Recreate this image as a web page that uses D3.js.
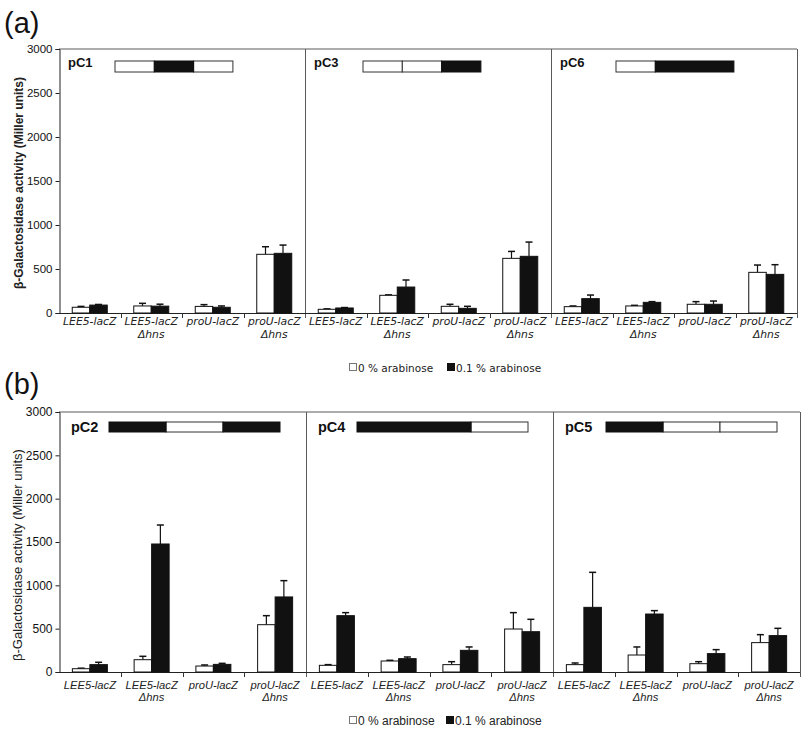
<!DOCTYPE html>
<html><head><meta charset="utf-8">
<script src="https://cdn.jsdelivr.net/npm/d3@7"></script>
<style>body{margin:0;background:#fff}svg{display:block}</style>
</head><body>
<script>
// ---------- data ----------
const catLine1 = ["LEE5-lacZ", "LEE5-lacZ", "proU-lacZ", "proU-lacZ"];
const catLine2 = ["", "Δhns", "", "Δhns"];
const seriesNames = ["0 % arabinose", "0.1 % arabinose"];
const yTicks = [0, 500, 1000, 1500, 2000, 2500, 3000];

const constructsA = ["pC1", "pC3", "pC6"];
const constructsB = ["pC2", "pC4", "pC5"];

// segments of construct schematic: 0 = open, 1 = filled
const schemePC1 = [0, 1, 0];
const schemePC3 = [0, 0, 1];
const schemePC6 = [0, 1, 1];
const schemePC2 = [1, 0, 1];
const schemePC4 = [1, 1, 0];
const schemePC5 = [1, 0, 0];

// means and (upper) errors: [0 % arabinose, 0.1 % arabinose]
const pC1_off = [65, 80, 75, 667],   pC1_offErr = [10, 30, 20, 86];
const pC1_on  = [90, 78, 65, 678],   pC1_onErr  = [7, 22, 15, 94];
const pC3_off = [42, 201, 76, 621],  pC3_offErr = [5, 5, 23, 79];
const pC3_on  = [57, 295, 53, 644],  pC3_onErr  = [5, 80, 23, 162];
const pC6_off = [72, 80, 99, 462],   pC6_offErr = [8, 7, 30, 83];
const pC6_on  = [163, 121, 99, 439], pC6_onErr  = [41, 8, 37, 110];
const pC2_off = [38, 142, 69, 546],  pC2_offErr = [6, 39, 12, 104];
const pC2_on  = [85, 1477, 88, 866], pC2_onErr  = [27, 219, 12, 188];
const pC4_off = [77, 127, 85, 496],  pC4_offErr = [8, 8, 34, 189];
const pC4_on  = [650, 154, 250, 465],pC4_onErr  = [35, 19, 39, 143];
const pC5_off = [85, 196, 96, 339],  pC5_offErr = [19, 93, 23, 92];
const pC5_on  = [746, 669, 212, 420],pC5_onErr  = [404, 39, 46, 84];

const dataByConstruct = {
  pC1: {scheme: schemePC1, off: pC1_off, offErr: pC1_offErr, on: pC1_on, onErr: pC1_onErr},
  pC3: {scheme: schemePC3, off: pC3_off, offErr: pC3_offErr, on: pC3_on, onErr: pC3_onErr},
  pC6: {scheme: schemePC6, off: pC6_off, offErr: pC6_offErr, on: pC6_on, onErr: pC6_onErr},
  pC2: {scheme: schemePC2, off: pC2_off, offErr: pC2_offErr, on: pC2_on, onErr: pC2_onErr},
  pC4: {scheme: schemePC4, off: pC4_off, offErr: pC4_offErr, on: pC4_on, onErr: pC4_onErr},
  pC5: {scheme: schemePC5, off: pC5_off, offErr: pC5_offErr, on: pC5_on, onErr: pC5_onErr}
};

// ---------- layout ----------
const W = 810, H = 738;
const svg = d3.select("body").append("svg").attr("width", W).attr("height", H)
  .style("font-family", "Arial, 'Liberation Sans', sans-serif");

const panels = [
  {letter: "(a)", letterY: 33, constructs: constructsA, left: 59, right: 797, top: 49, bottom: 313,
   tickFont: 11.5, catFont: "'DejaVu Sans', Verdana, sans-serif", catSize: 10.8, catY1: 325, catY2: 338,
   yLabelBold: true, yLabelSize: 12, yLabelCenter: 183, yLabelX: 23,
   nameSize: 13, nameDx: 9, nameY: 67, boxOffsets: [56, 58, 65], segW: 39.3, boxY: 61, boxH: 11,
   legendFont: "'DejaVu Sans', Verdana, sans-serif", legendSize: 10.5, legendY: 372, legendX: [349, 447]},
  {letter: "(b)", letterY: 394, constructs: constructsB, left: 59, right: 800, top: 412, bottom: 672,
   tickFont: 12, catFont: "Arial, 'Liberation Sans', sans-serif", catSize: 11.2, catY1: 689, catY2: 701,
   yLabelBold: false, yLabelSize: 13, yLabelCenter: 555, yLabelX: 22,
   nameSize: 14.5, nameDx: 12, nameY: 432, boxOffsets: [50, 51, 53], segW: 57, boxY: 422, boxH: 10,
   legendFont: "Arial, 'Liberation Sans', sans-serif", legendSize: 12, legendY: 725, legendX: [349, 446]}
];

const frameColor = "#5a5a5a";
const barBlack = "#111";

// merge consecutive filled segments into runs so they look continuous
function schemeRuns(scheme) {
  const runs = [];
  scheme.forEach((s, i) => {
    const last = runs[runs.length - 1];
    if (s === 1 && last && last.s === 1 && last.start + last.len === i) last.len += 1;
    else runs.push({s, start: i, len: 1});
  });
  return runs;
}

panels.forEach(p => {
  const g = svg.append("g");
  const y = d3.scaleLinear().domain([0, 3000]).range([p.bottom, p.top]);
  const xSub = d3.scaleBand().domain(p.constructs).range([p.left, p.right]);
  const xCat = d3.scaleBand().domain(d3.range(catLine1.length)).range([0, xSub.bandwidth()]);
  const pairW = 35;
  const xSer = d3.scaleBand().domain([0, 1])
    .range([(xCat.bandwidth() - pairW) / 2, (xCat.bandwidth() + pairW) / 2]);

  // panel letter
  svg.append("text").attr("x", 4).attr("y", p.letterY).attr("font-size", 29)
    .attr("fill", "#111").text(p.letter);

  // frame: top, right, dividers
  g.append("line").attr("x1", p.left).attr("x2", p.right).attr("y1", p.top).attr("y2", p.top)
    .attr("stroke", frameColor).attr("stroke-width", 1);
  p.constructs.forEach((c, i) => {
    if (i === 0) return;
    const xx = Math.round(xSub(c)) + 0.5;
    g.append("line").attr("x1", xx).attr("x2", xx).attr("y1", p.top).attr("y2", p.bottom + 5)
      .attr("stroke", frameColor);
  });
  g.append("line").attr("x1", p.right + 0.5).attr("x2", p.right + 0.5).attr("y1", p.top).attr("y2", p.bottom + 5)
    .attr("stroke", frameColor);

  // x baseline and category ticks
  g.append("line").attr("x1", p.left).attr("x2", p.right).attr("y1", p.bottom + 0.5).attr("y2", p.bottom + 0.5)
    .attr("stroke", "#222");
  p.constructs.forEach(c => {
    d3.range(1, catLine1.length).forEach(k => {
      const xx = Math.round(xSub(c) + xCat(k)) + 0.5;
      g.append("line").attr("x1", xx).attr("x2", xx).attr("y1", p.bottom).attr("y2", p.bottom + 5)
        .attr("stroke", "#333");
    });
  });

  // y axis
  const ax = g.append("g").attr("transform", `translate(${p.left + 0.5},0)`)
    .call(d3.axisLeft(y).tickValues(yTicks).tickSize(4).tickPadding(3).tickFormat(d3.format("d")));
  ax.select(".domain").attr("stroke", "#222");
  ax.selectAll(".tick line").attr("stroke", "#222");
  ax.selectAll(".tick text").attr("font-size", p.tickFont).attr("fill", "#111")
    .attr("font-family", "Arial, 'Liberation Sans', sans-serif");

  // y label
  svg.append("text")
    .attr("transform", `translate(${p.yLabelX},${p.yLabelCenter}) rotate(-90)`)
    .attr("text-anchor", "middle").attr("font-size", p.yLabelSize)
    .attr("font-weight", p.yLabelBold ? "bold" : "normal").attr("fill", "#222")
    .text("β-Galactosidase activity (Miller units)");

  p.constructs.forEach((c, ci) => {
    const d = dataByConstruct[c];
    const x0 = xSub(c);
    // construct name
    g.append("text").attr("x", x0 + p.nameDx).attr("y", p.nameY).attr("font-size", p.nameSize)
      .attr("font-weight", "bold").attr("fill", "#111").text(c);
    // schematic
    const bx = x0 + p.boxOffsets[ci];
    const runs = schemeRuns(d.scheme).sort((a, b) => a.s - b.s);
    g.selectAll(null).data(runs).enter().append("rect")
      .attr("x", o => bx + o.start * p.segW).attr("y", p.boxY)
      .attr("width", o => o.len * p.segW).attr("height", p.boxH)
      .attr("fill", o => o.s ? barBlack : "#fff")
      .attr("stroke", o => o.s ? barBlack : "#333").attr("stroke-width", 1);

    // bars
    const rows = [];
    catLine1.forEach((_, k) => {
      rows.push({k, s: 0, v: d.off[k], e: d.offErr[k]});
      rows.push({k, s: 1, v: d.on[k], e: d.onErr[k]});
    });
    const bw = xSer.bandwidth();
    rows.forEach(r => {
      const cx = x0 + xCat(r.k) + xSer(r.s) + bw / 2;
      g.append("line").attr("x1", cx).attr("x2", cx).attr("y1", y(r.v)).attr("y2", y(r.v + r.e))
        .attr("stroke", "#111").attr("stroke-width", 1.2);
      g.append("line").attr("x1", cx - 3.5).attr("x2", cx + 3.5).attr("y1", y(r.v + r.e)).attr("y2", y(r.v + r.e))
        .attr("stroke", "#111").attr("stroke-width", 1.5);
    });
    g.selectAll(null).data(rows).enter().append("rect")
      .attr("x", r => x0 + xCat(r.k) + xSer(r.s))
      .attr("y", r => y(r.v))
      .attr("width", bw)
      .attr("height", r => y(0) - y(r.v))
      .attr("fill", r => r.s ? barBlack : "#fff")
      .attr("stroke", "#111").attr("stroke-width", 1);

    // category labels
    catLine1.forEach((t, k) => {
      const cx = x0 + xCat(k) + xCat.bandwidth() / 2;
      g.append("text").attr("x", cx).attr("y", p.catY1).attr("text-anchor", "middle")
        .attr("font-family", p.catFont).attr("font-style", "italic").attr("font-size", p.catSize)
        .attr("fill", "#222").text(t);
      if (catLine2[k]) g.append("text").attr("x", cx).attr("y", p.catY2).attr("text-anchor", "middle")
        .attr("font-family", p.catFont).attr("font-style", "italic").attr("font-size", p.catSize)
        .attr("fill", "#222").text(catLine2[k]);
    });
  });

  // legend
  seriesNames.forEach((n, i) => {
    const lx = p.legendX[i];
    g.append("rect").attr("x", lx + 0.5).attr("y", p.legendY - 8.5).attr("width", 7).attr("height", 7)
      .attr("fill", i ? barBlack : "#fff").attr("stroke", i ? barBlack : "#777");
    g.append("text").attr("x", lx + 9).attr("y", p.legendY).attr("font-family", p.legendFont)
      .attr("font-size", p.legendSize).attr("fill", "#222").text(n);
  });
});
</script>
</body></html>
